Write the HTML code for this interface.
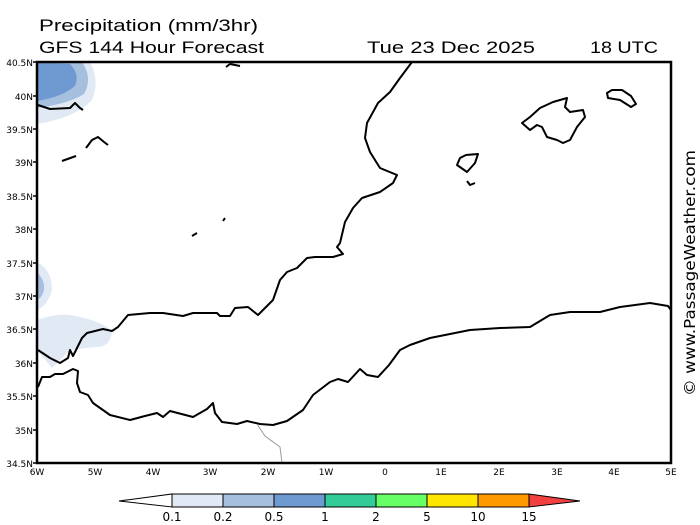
<!DOCTYPE html>
<html><head><meta charset="utf-8"><style>
html,body{margin:0;padding:0;background:#fff;}
body{width:700px;height:525px;overflow:hidden;position:relative;font-family:"DejaVu Sans","Liberation Sans",sans-serif;}
</style></head><body>
<svg width="700" height="525" xmlns="http://www.w3.org/2000/svg" style="position:absolute;left:0;top:0">
<g font-family="Liberation Sans, DejaVu Sans, sans-serif" font-size="17" fill="#000">
<text x="39" y="31" textLength="219" lengthAdjust="spacingAndGlyphs">Precipitation (mm/3hr)</text>
<text x="39" y="53" textLength="225" lengthAdjust="spacingAndGlyphs">GFS 144 Hour Forecast</text>
<text x="367" y="53" textLength="168" lengthAdjust="spacingAndGlyphs">Tue 23 Dec 2025</text>
<text x="590" y="53" textLength="68" lengthAdjust="spacingAndGlyphs">18 UTC</text>
</g>
<path d="M37,62 L90,62 Q100,80 92,100 Q75,118 37,124 Z" fill="#e1e9f5"/>
<path d="M37,62 L82,62 Q93,78 84,94 Q68,104 37,108 Z" fill="#a7bfdf"/>
<path d="M37,62 L70,64 Q80,74 75,86 Q62,97 37,101 Z" fill="#6f99d1"/>
<path d="M37,262 Q52,270 52,290 Q48,305 37,310 Z" fill="#e1e9f5"/>
<path d="M37,272 Q45,280 44,290 Q42,298 37,300 Z" fill="#a7bfdf"/>
<path d="M37,320 Q60,312 75,316 Q105,322 112,332 Q110,348 95,347 L70,350 L52,368 L37,350 Z" fill="#e1e9f5"/>
<g fill="none" stroke="#000" stroke-width="2" stroke-linejoin="round">
<polyline points="38,350 50,358 60,363 68,358 70,350 73,356 82,338 87,333 103,329 112,331 118,327 128,315 150,313 163,313 183,316 193,313 217,313 220,316 230,316 235,308 248,307 258,315 273,300 280,280 287,272 297,268 307,258 315,257 333,257 343,254 337,247 340,243 345,222 353,208 362,198 380,192 393,183 397,175 380,168 370,152 365,138 367,123 378,103 390,92 400,78 412,62"/>
<polyline points="38,387 42,377 50,377 55,374 63,374 73,369 78,371 77,383 80,392 88,395 93,403 110,415 130,420 145,416 157,413 163,417 170,411 193,417 207,409 213,403 215,413 222,422 237,424 247,421 260,424 273,425 287,421 303,410 313,395 330,382 338,379 348,382 360,369 367,375 378,377 389,365 400,350 410,345 430,338 445,335 470,330 500,328 530,327 550,315 570,312 600,312 620,307 650,303 668,306 671,310"/>
<polyline points="38,105 50,109 70,108 75,103 80,108 83,110"/>
<polyline points="86,148 92,140 98,137 104,142 108,145"/>
<polyline points="62,161 76,156"/>
<polyline points="226,67 230,64 240,66 M230,67 L229,73"/>
<polyline points="192,236 197,233"/>
<polyline points="223,221 225,218"/>
<polygon points="522,123 530,117 540,108 553,102 567,98 565,107 570,112 583,110 585,117 577,127 570,140 563,143 557,140 547,137 542,127 537,125 530,130"/>
<polygon points="607,93 612,90 622,90 631,96 636,104 631,107 620,100 608,98"/>
<polygon points="457,165 460,158 466,155 478,154 475,163 467,172"/>
<polyline points="467,181 470,185 475,183"/>
</g>
<polyline points="257,424 265,436 280,447 282,463" fill="none" stroke="#999" stroke-width="1"/>
<rect x="37" y="62" width="634" height="401" fill="none" stroke="#000" stroke-width="2.5"/>
<g stroke="#000" stroke-width="1.5">
<path d="M33,62h4M33,96h4M33,129h4M33,162h4M33,196h4M33,229h4M33,263h4M33,296h4M33,329h4M33,363h4M33,396h4M33,430h4M33,463h4"/>
</g>
<g font-family="DejaVu Sans, Liberation Sans, sans-serif" font-size="9" fill="#000" text-anchor="end">
<text x="33" y="66">40.5N</text><text x="33" y="100">40N</text><text x="33" y="133">39.5N</text><text x="33" y="166">39N</text><text x="33" y="200">38.5N</text><text x="33" y="233">38N</text><text x="33" y="267">37.5N</text><text x="33" y="300">37N</text><text x="33" y="333">36.5N</text><text x="33" y="367">36N</text><text x="33" y="400">35.5N</text><text x="33" y="434">35N</text><text x="33" y="467">34.5N</text>
</g>
<g font-family="DejaVu Sans, Liberation Sans, sans-serif" font-size="9" fill="#000" text-anchor="middle">
<text x="37" y="475">6W</text><text x="95" y="475">5W</text><text x="153" y="475">4W</text><text x="210" y="475">3W</text><text x="268" y="475">2W</text><text x="326" y="475">1W</text><text x="385" y="475">0</text><text x="441" y="475">1E</text><text x="499" y="475">2E</text><text x="557" y="475">3E</text><text x="614" y="475">4E</text><text x="671" y="475">5E</text>
</g>
<g stroke="#000" stroke-width="1">
<polygon points="119,501 172,494 172,507" fill="#fff"/>
<rect x="172" y="494" width="51" height="13" fill="#e1e9f5"/>
<rect x="223" y="494" width="51" height="13" fill="#a7bfdf"/>
<rect x="274" y="494" width="51" height="13" fill="#6f99d1"/>
<rect x="325" y="494" width="51" height="13" fill="#33cc99"/>
<rect x="376" y="494" width="51" height="13" fill="#66ff66"/>
<rect x="427" y="494" width="51" height="13" fill="#ffe600"/>
<rect x="478" y="494" width="51" height="13" fill="#ff9900"/>
<polygon points="529,494 580,501 529,507" fill="#f04040"/>
</g>
<g font-family="DejaVu Sans, Liberation Sans, sans-serif" font-size="12" fill="#000" text-anchor="middle">
<text x="172" y="521">0.1</text><text x="223" y="521">0.2</text><text x="274" y="521">0.5</text><text x="325" y="521">1</text><text x="376" y="521">2</text><text x="427" y="521">5</text><text x="478" y="521">10</text><text x="529" y="521">15</text>
</g>
<text transform="translate(695,396) rotate(-90)" font-family="DejaVu Sans, Liberation Sans, sans-serif" font-size="15" fill="#000" textLength="246" lengthAdjust="spacingAndGlyphs">© www.PassageWeather.com</text>
</svg>
</body></html>
